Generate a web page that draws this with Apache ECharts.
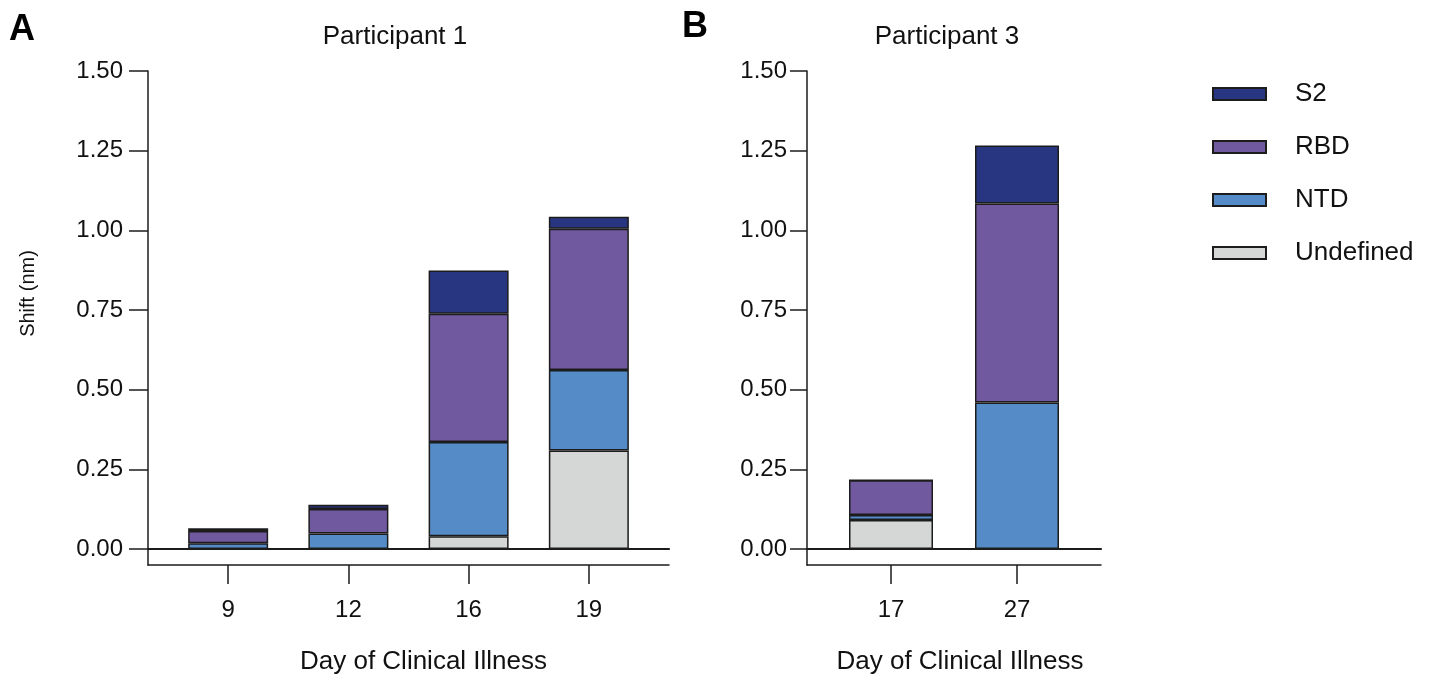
<!DOCTYPE html>
<html>
<head>
<meta charset="utf-8">
<title>Shift by domain</title>
<script src="https://cdn.jsdelivr.net/npm/echarts@6/dist/echarts.min.js"></script>
<style>
    html, body { margin: 0; padding: 0; background: #fff; }
    #chart { width: 1431px; height: 676px; }
</style>
</head>
<body>
<div id="chart"></div>
<script type="text/javascript">
// Participant 1
var p1Days = ['9', '12', '16', '19'];
var p1Undefined = [0, 0, 0.040, 0.309];
var p1NTD = [0.018, 0.049, 0.296, 0.253];
var p1RBD = [0.039, 0.077, 0.402, 0.443];
var p1S2 = [0.008, 0.013, 0.136, 0.038];

// Participant 3
var p3Days = ['17', '27'];
var p3Undefined = [0.091, 0];
var p3NTD = [0.016, 0.460];
var p3RBD = [0.109, 0.624];
var p3S2 = [0, 0.182];

var yTicks = [0, 0.25, 0.5, 0.75, 1, 1.25, 1.5];
var legendNames = ['S2', 'RBD', 'NTD', 'Undefined'];

var colors = {
    'S2': '#283580',
    'RBD': '#7159a0',
    'NTD': '#558bc6',
    'Undefined': '#d5d7d6'
};
var ink = '#1c1c1c';
var font = "'Liberation Sans', Arial, sans-serif";

function idx(arr) {
    return arr.map(function (v, i) { return i; });
}

// value x-axis so the bars sit 2/3 of a band in from each end, like the original
function xAxes(grid, days, namePad) {
    var lo = -2 / 3, hi = days.length - 1 + 2 / 3;
    return [{
        // zero line
        gridIndex: grid, type: 'value', min: lo, max: hi,
        axisLine: { onZero: true, lineStyle: { color: ink, width: 2.2 } },
        axisTick: { show: false }, axisLabel: { show: false }, splitLine: { show: false }
    }, {
        gridIndex: grid, type: 'value', min: lo, max: hi, position: 'bottom',
        axisLine: { onZero: false, lineStyle: { color: ink, width: 1.5 } },
        axisTick: { customValues: idx(days), length: 19, lineStyle: { color: ink, width: 1.5 } },
        axisLabel: {
            customValues: idx(days), margin: 33, fontSize: 24, color: '#111',
            formatter: function (v) { return days[Math.round(v)]; }
        },
        splitLine: { show: false },
        name: 'Day of Clinical Illness', nameLocation: 'middle', nameGap: 84,
        nameTextStyle: { fontSize: 26, color: '#111', padding: namePad }
    }];
}

function yAxis(grid, tickLen, margin, name) {
    return {
        gridIndex: grid, type: 'value', min: -0.05, max: 1.5,
        axisLine: { show: true, onZero: false, lineStyle: { color: ink, width: 1.5 } },
        axisTick: { customValues: yTicks, length: tickLen, lineStyle: { color: ink, width: 1.5 } },
        axisLabel: {
            customValues: yTicks, margin: margin, fontSize: 24, color: '#111',
            formatter: function (v) { return v.toFixed(2); }
        },
        splitLine: { show: false },
        name: name, nameLocation: 'middle', nameGap: 110,
        nameTextStyle: { fontSize: 20, color: '#111', padding: [0, 0, 0, 49] }
    };
}

function stackSeries(stack, xi, yi, width, parts) {
    return parts.map(function (p) {
        return {
            name: p[0], type: 'bar', stack: stack,
            xAxisIndex: xi, yAxisIndex: yi,
            encode: { x: 1, y: 0 },
            data: p[1].map(function (v, i) { return [v, i]; }),
            barWidth: width,
            itemStyle: { color: colors[p[0]], borderColor: ink, borderWidth: 1.5 }
        };
    });
}

var chart = echarts.init(document.getElementById('chart'));
var option = {
    animation: false,
    textStyle: { fontFamily: font },
    title: [
        { text: 'A', left: 9, top: 12, padding: 0, textStyle: { fontSize: 36, fontWeight: 'bold', color: '#000', fontFamily: font } },
        { text: 'B', left: 682, top: 9, padding: 0, textStyle: { fontSize: 36, fontWeight: 'bold', color: '#000', fontFamily: font } },
        { text: 'Participant 1', left: 395, top: 24, padding: 0, textAlign: 'center', textStyle: { fontSize: 26, fontWeight: 'normal', color: '#111', fontFamily: font } },
        { text: 'Participant 3', left: 947, top: 24, padding: 0, textAlign: 'center', textStyle: { fontSize: 26, fontWeight: 'normal', color: '#111', fontFamily: font } }
    ],
    legend: {
        data: legendNames, orient: 'vertical', left: 1212, top: 81, padding: 0,
        icon: 'rect', itemWidth: 53, itemHeight: 12, itemGap: 27,
        textStyle: { fontSize: 26, color: '#111', padding: [0, 0, 0, 24] }
    },
    grid: [
        { left: 148, top: 71, width: 521, height: 494, outerBoundsMode: 'none' },
        { left: 807, top: 71, width: 294, height: 494, outerBoundsMode: 'none' }
    ],
    xAxis: xAxes(0, p1Days, [0, 0, 0, 30]).concat(xAxes(1, p3Days, [0, 0, 0, 12])),
    yAxis: [yAxis(0, 19, 25, 'Shift (nm)'), yAxis(1, 17, 20, '')],
    series: stackSeries('p1', 1, 0, 80, [
        ['Undefined', p1Undefined], ['NTD', p1NTD], ['RBD', p1RBD], ['S2', p1S2]
    ]).concat(stackSeries('p3', 3, 1, 84, [
        ['Undefined', p3Undefined], ['NTD', p3NTD], ['RBD', p3RBD], ['S2', p3S2]
    ]))
};
chart.setOption(option);
</script>
</body>
</html>
